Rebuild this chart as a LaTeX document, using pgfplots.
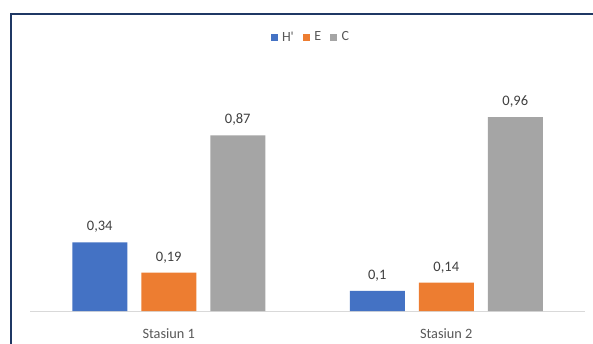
\documentclass[border=0pt]{standalone}
\usepackage{pgfplots}
\pgfplotsset{compat=1.18}
\usepackage{fontspec}
\setmainfont{Carlito}
\definecolor{cblue}{HTML}{4472C4}
\definecolor{corange}{HTML}{ED7D31}
\definecolor{cgray}{HTML}{A5A5A5}
\definecolor{txt}{HTML}{595959}
\definecolor{lbl}{HTML}{404040}
\definecolor{frame}{HTML}{1F3864}
\begin{document}
\begin{tikzpicture}[x=1pt,y=1pt]
\useasboundingbox (0,0) rectangle (593,343);
\clip (0,0) rectangle (593,343);
\fill[white] (0,0) rectangle (593,343);
\draw[frame, line width=2pt] (11.2,-10) -- (11.2,328.7) -- (610,328.7);
\begin{axis}[
  at={(30pt,32pt)}, anchor=south west,
  scale only axis, width=555pt, height=242.4pt,
  xmin=-0.5, xmax=1.5, ymin=0, ymax=1.2,
  enlargelimits=false,
  axis x line*=bottom, axis y line=none,
  x axis line style={draw=black!15, line width=0.8pt, -},
  xtick=data, xticklabels={Stasiun 1, Stasiun 2},
  xtick style={draw=none},
  xticklabel style={font=\fontsize{14.3}{17}\selectfont, text=txt, yshift=-9.5pt},
  ytick=\empty,
  ybar=14pt, bar width=55pt,
  nodes near coords,
  every node near coord/.append style={font=\fontsize{14.5}{17}\selectfont, text=lbl, anchor=south, inner sep=0pt, yshift=9.5pt},
  /pgf/number format/use comma,
  /pgf/number format/assume math mode=true,
  ybar legend/.style={legend image code/.code={\fill[##1] (0pt,-3.5pt) rectangle (7pt,3.5pt);}},
  legend image code/.code={\fill[#1] (0pt,-3.5pt) rectangle (7pt,3.5pt);},
  legend style={at={(0.506,1.13)}, anchor=center, draw=none, fill=none, legend columns=3,
    font=\fontsize{14}{16}\selectfont, text=txt,
    /tikz/every odd column/.append style={column sep=2.5pt},
    /tikz/every even column/.append style={column sep=7pt}},
]
\addplot[fill=cblue, draw=none] coordinates {(0,0.34) (1,0.1)};
\addplot[fill=corange, draw=none] coordinates {(0,0.19) (1,0.14)};
\addplot[fill=cgray, draw=none] coordinates {(0,0.87) (1,0.96)};
\legend{H\textquotesingle, E, C}
\end{axis}
\end{tikzpicture}
\end{document}
